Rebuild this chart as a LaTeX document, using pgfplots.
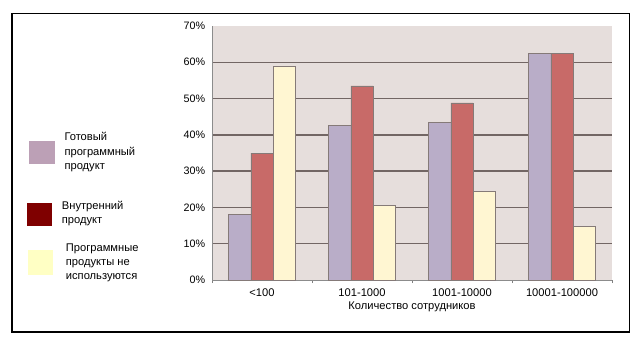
\documentclass[border=0pt]{standalone}
\usepackage{pgfplots}
\pgfplotsset{compat=1.18}
\usepackage{fontspec}
\setmainfont{Liberation Sans}
\definecolor{plotbg}{HTML}{E6DEDC}
\definecolor{gridc}{HTML}{726664}
\definecolor{barA}{HTML}{B9ADC8}
\definecolor{barB}{HTML}{C86A68}
\definecolor{barC}{HTML}{FFF6D2}
\definecolor{barEdge}{HTML}{857A78}
\definecolor{legA}{HTML}{BCA0B6}
\definecolor{legB}{HTML}{7F0000}
\definecolor{legC}{HTML}{FFFFC4}
\begin{document}
\begin{tikzpicture}[x=1bp,y=1bp]
\path[use as bounding box, fill=white] (0,0) rectangle (642,341);
\draw[black, line width=1.2bp] (12,9) rectangle (629.5,327.7);
\coordinate (P) at (212,61);
\begin{axis}[
  at={(P)}, anchor=south west,
  scale only axis, width=400bp, height=254bp,
  xmin=-0.5, xmax=3.5, ymin=0, ymax=70,
  ybar=0pt, bar width=22.3bp,
  axis background/.style={fill=plotbg},
  axis lines*=left,
  axis line style={draw=gray!90, line width=0.8bp},
  xtick={0,1,2,3},
  xticklabels={<100,101-1000,1001-10000,10001-100000},
  major x tick style={draw=none},
  minor xtick={-0.5,0.5,1.5,2.5,3.5},
  minor tick length=3bp,
  minor x tick style={draw=gray, line width=0.6bp},
  tick align=outside,
  ytick={10,20,30,40,50,60},
  yticklabels={10\%,20\%,30\%,40\%,50\%,60\%},
  extra y ticks={0,70},
  extra y tick labels={0\%,70\%},
  extra y tick style={grid=none},
  ymajorgrids,
  major grid style={draw=gridc, line width=1.3bp},
  major y tick style={draw=none},
  ticklabel style={font=\fontsize{10.8}{12}\selectfont, text=black},
  xticklabel style={yshift=-1bp, font=\fontsize{11.2}{12}\selectfont},
  yticklabel style={xshift=1bp},
  xlabel={Количество сотрудников},
  xlabel style={font=\fontsize{11.2}{12}\selectfont, at={(axis description cs:0.5,0)}, anchor=center, yshift=-27bp},
  clip=false,
]
\addplot[fill=barA, draw=barEdge, line width=0.6bp] coordinates {(0,18) (1,42.5) (2,43.5) (3,62.4)};
\addplot[fill=barB, draw=barEdge, line width=0.6bp] coordinates {(0,35) (1,53.5) (2,48.8) (3,62.4)};
\addplot[fill=barC, draw=barEdge, line width=0.6bp] coordinates {(0,59) (1,20.6) (2,24.4) (3,14.8)};
\end{axis}
% legend
\fill[legA] (29,{341-164}) rectangle (55,{341-141});
\fill[legB] (26.7,{341-226}) rectangle (52.3,{341-202.7});
\fill[legC] (28.3,{341-275}) rectangle (53.3,{341-250});
\begin{scope}[every node/.style={anchor=base west, inner sep=0pt, font=\fontsize{11.2}{12}\selectfont}]
\node at (64.3,{341-140.3}) {Готовый};
\node at (64.3,{341-155}) {программный};
\node at (64.3,{341-169}) {продукт};
\node at (61.7,{341-209.5}) {Внутренний};
\node at (61.7,{341-223.5}) {продукт};
\node at (65.7,{341-251}) {Программные};
\node at (65.7,{341-265.5}) {продукты не};
\node at (65.7,{341-279.5}) {используются};
\end{scope}
\end{tikzpicture}
\end{document}
